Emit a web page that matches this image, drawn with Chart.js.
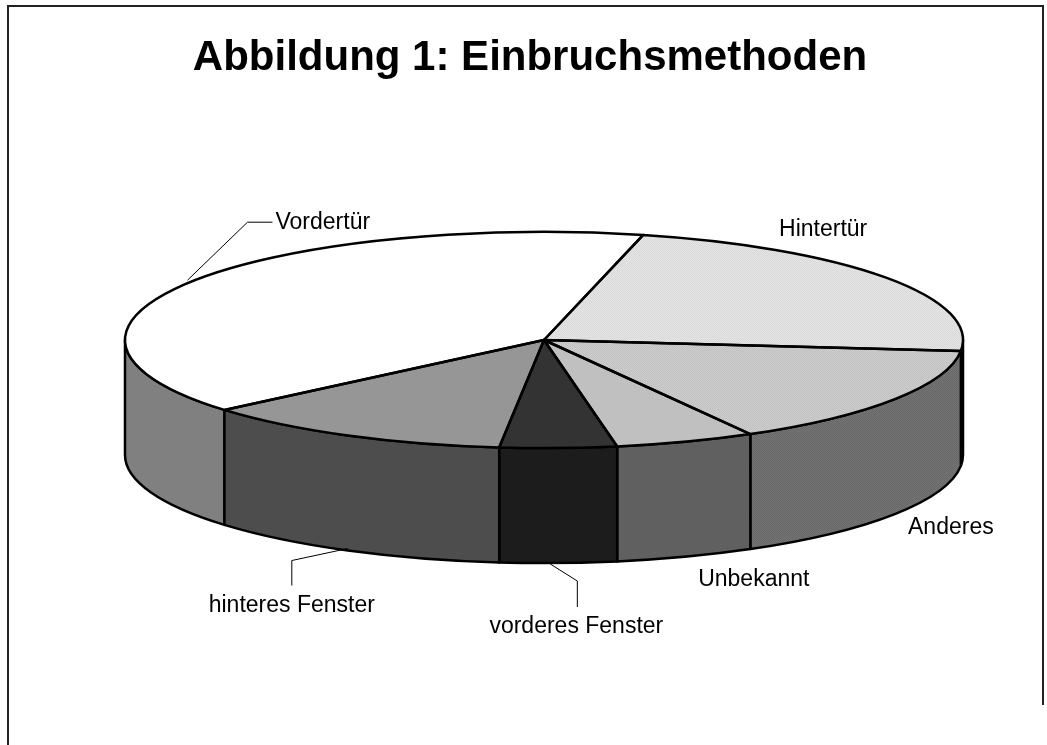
<!DOCTYPE html>
<html lang="de">
<head>
    <meta charset="UTF-8">
    <title>Einbruchsmethoden</title>
    <script src="https://cdn.jsdelivr.net/npm/chart.js"></script>
    <style>
        html, body { margin: 0; padding: 0; background: #fff; }
    </style>
</head>
<body>

    <canvas id="grafico" width="1047" height="745"></canvas>

<script>

    // Daten
    const titel = 'Abbildung 1: Einbruchsmethoden';
    const kategorien = ['Vordertür', 'Hintertür', 'Anderes', 'Unbekannt', 'vorderes Fenster', 'hinteres Fenster'];
    const anteile = [40, 22.8, 15.2, 5.4, 4.5, 12.1];

    // Aussehen
    const NEIGUNG = 0.258;   // Höhe/Breite der Ellipse
    const TIEFE = 115;       // Dicke der Torte
    const SCHRIFT = '"Liberation Sans", Arial, sans-serif';

    function muster(a, b, neigung) {
        const c = document.createElement('canvas');
        c.width = 2; c.height = 2;
        const g = c.getContext('2d');
        g.fillStyle = a; g.fillRect(0, 0, 2, 2);
        g.fillStyle = b; g.fillRect(0, 0, 1, 1); g.fillRect(1, 1, 1, 1);
        const p = g.createPattern(c, 'repeat');
        if (neigung) p.setTransform(new DOMMatrix([1, 0, 0, 1 / NEIGUNG, 0, 0]));
        return p;
    }

    const deckFarben = ['#ffffff', muster('#f0f0f0', '#cfcfcf', true), muster('#d6d6d6', '#b9b9b9', true), '#c0c0c0', '#333333', '#969696'];
    const seitenFarben = ['#808080', muster('#646464', '#565656'), muster('#747474', '#686868'), '#606060', '#1c1c1c', '#4d4d4d'];

    // Beschriftung relativ zur Sektormitte (vorne: Unterkante)
    const beschriftung = [
        { dx: 88, dy: -61, align: 'left', linie: [[0, -3], [60, -61], [85, -61]] },
        { dx: -63, dy: -48, align: 'center' },
        { dx: 56, dy: 14, align: 'center' },
        { dx: 68, dy: 23, align: 'center' },
        { dx: 18, dy: 64, align: 'center', linie: [[-8, 1], [19, 18], [19, 44]] },
        { dx: -56, dy: 55, align: 'center', linie: [[0, -2], [-56, 10], [-56, 35]] }
    ];

    function normieren(w) {
        const t = Math.PI * 2;
        return ((w % t) + t) % t;
    }

    const torte3d = {
        id: 'torte3d',
        beforeDraw(chart) {
            const ctx = chart.ctx;
            ctx.save();
            ctx.strokeStyle = '#222';
            ctx.lineWidth = 2;
            ctx.beginPath();
            ctx.moveTo(8, 745);
            ctx.lineTo(8, 6);
            ctx.lineTo(1043, 6);
            ctx.lineTo(1043, 705);
            ctx.stroke();
            ctx.fillStyle = '#000';
            ctx.font = 'bold 42px ' + SCHRIFT;
            ctx.textAlign = 'center';
            ctx.textBaseline = 'alphabetic';
            ctx.fillText(titel, 530, 70);
            ctx.restore();
        },
        beforeDatasetDraw(chart, args) {
            const ctx = chart.ctx;
            const boegen = args.meta.data;
            ctx.save();
            ctx.lineWidth = 2.5;
            ctx.lineJoin = 'round';
            ctx.strokeStyle = '#000';
            boegen.forEach((b, i) => {
                const rx = b.outerRadius, ry = rx * NEIGUNG;
                const s = normieren(b.startAngle);
                const e = s + (b.endAngle - b.startAngle);
                [[0, Math.PI], [Math.PI * 2, Math.PI * 3]].forEach(([lo, hi]) => {
                    const a = Math.max(s, lo), z = Math.min(e, hi);
                    if (z <= a) return;
                    ctx.beginPath();
                    ctx.ellipse(b.x, b.y, rx, ry, 0, a, z, false);
                    ctx.ellipse(b.x, b.y + TIEFE, rx, ry, 0, z, a, true);
                    ctx.closePath();
                    ctx.fillStyle = seitenFarben[i];
                    ctx.fill();
                    ctx.stroke();
                });
            });
            ctx.restore();

            // Deckfläche gestaucht zeichnen lassen
            const y = boegen[0].y;
            ctx.save();
            ctx.translate(0, y);
            ctx.scale(1, NEIGUNG);
            ctx.translate(0, -y);
        },
        afterDatasetDraw(chart, args) {
            const ctx = chart.ctx;
            ctx.restore();
            ctx.save();
            ctx.lineWidth = 2.5;
            ctx.lineJoin = 'round';
            ctx.strokeStyle = '#000';
            args.meta.data.forEach(b => {
                const rx = b.outerRadius, ry = rx * NEIGUNG;
                ctx.beginPath();
                ctx.moveTo(b.x, b.y);
                ctx.ellipse(b.x, b.y, rx, ry, 0, b.startAngle, b.endAngle, false);
                ctx.closePath();
                ctx.stroke();
            });
            ctx.restore();
        },
        afterDraw(chart) {
            const ctx = chart.ctx;
            const boegen = chart.getDatasetMeta(0).data;
            ctx.save();
            ctx.font = '23px ' + SCHRIFT;
            ctx.fillStyle = '#000';
            ctx.strokeStyle = '#000';
            ctx.lineWidth = 1;
            ctx.textBaseline = 'middle';
            boegen.forEach((b, i) => {
                const mitte = (b.startAngle + b.endAngle) / 2;
                const rx = b.outerRadius, ry = rx * NEIGUNG;
                let px = b.x + rx * Math.cos(mitte);
                let py = b.y + ry * Math.sin(mitte);
                if (Math.sin(mitte) > 0) py += TIEFE;
                const l = beschriftung[i];
                if (l.linie) {
                    ctx.beginPath();
                    l.linie.forEach(([dx, dy], k) => {
                        if (k === 0) ctx.moveTo(px + dx, py + dy);
                        else ctx.lineTo(px + dx, py + dy);
                    });
                    ctx.stroke();
                }
                ctx.textAlign = l.align;
                ctx.fillText(kategorien[i], px + l.dx, py + l.dy);
            });
            ctx.restore();
        }
    };

    new Chart(document.getElementById('grafico'), {
        type: 'pie',
        data: {
            labels: kategorien,
            datasets: [{
                data: anteile,
                backgroundColor: deckFarben,
                borderWidth: 0,
                clip: false
            }]
        },
        options: {
            responsive: false,
            devicePixelRatio: 1,
            animation: false,
            events: [],
            rotation: 229.7,
            radius: 419,
            layout: { padding: { left: 41, right: 0, top: 0, bottom: 65 } },
            plugins: {
                legend: { display: false },
                title: { display: false },
                tooltip: { enabled: false }
            }
        },
        plugins: [torte3d]
    });

</script>
</body>
</html>
